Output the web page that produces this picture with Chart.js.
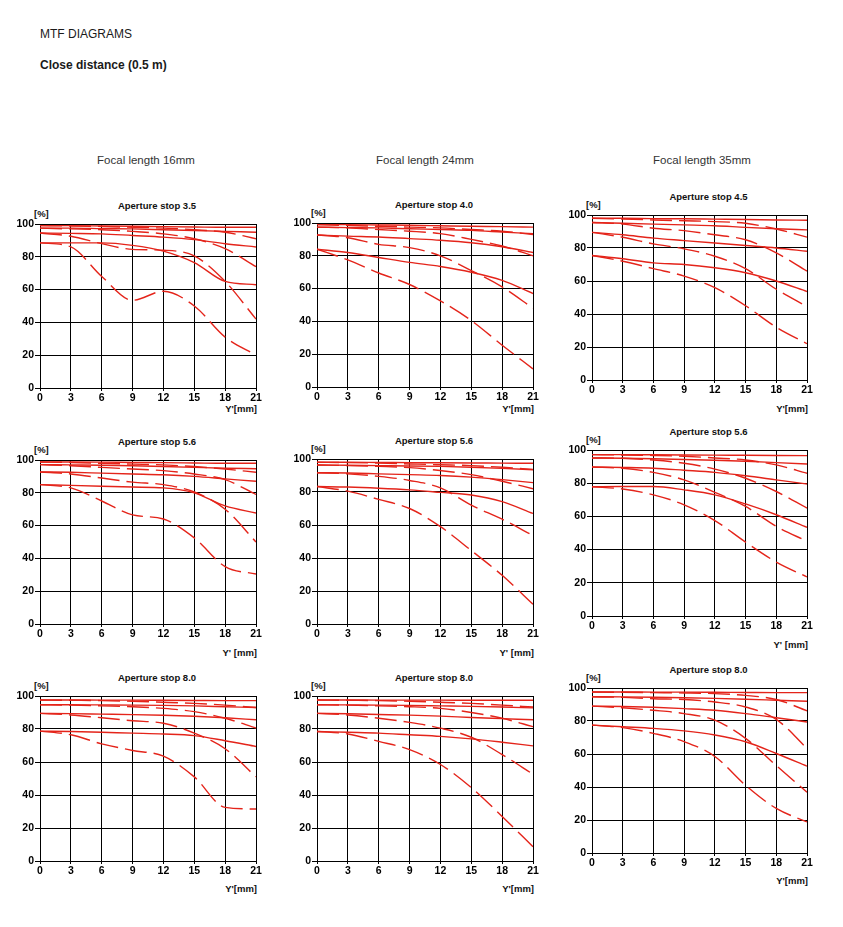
<!DOCTYPE html>
<html>
<head>
<meta charset="utf-8">
<title>MTF diagrams</title>
<script src="https://cdn.jsdelivr.net/npm/chart.js@4.4.1/dist/chart.umd.min.js"></script>
<style>
  html, body { margin: 0; padding: 0; background: #fff; }
  body { position: relative; width: 843px; height: 927px; overflow: hidden;
         font-family: 'Liberation Sans', Arial, sans-serif; color: #1a1a1a; }
  .txt { position: absolute; white-space: nowrap; line-height: 14px; }
  .small { font-size: 9.5px; font-weight: bold; color: #111; }
  canvas { position: absolute; }
</style>
</head>
<body>
<div class="txt" style="left:40px;top:27px;font-size:12px">MTF DIAGRAMS</div>
<div class="txt" style="left:40px;top:58px;font-size:12px;font-weight:bold">Close distance (0.5 m)</div>

<script>
// image height Y' [mm] and MTF [%] ticks
const imageHeights = [0, 3, 6, 9, 12, 15, 18, 21];
const percentTicks = [0, 20, 40, 60, 80, 100];

const focalLengths = ['Focal length 16mm', 'Focal length 24mm', 'Focal length 35mm'];
const apertureStops = [
  ['3.5', '4.0', '4.5'],
  ['5.6', '5.6', '5.6'],
  ['8.0', '8.0', '8.0']
];

// each panel: 5, 10, 20, 40 lp/mm, sagittal (solid) then tangential (dashed)
const mtf16_35 = [
  [99, 99, 98.8, 98.6, 98.4, 98.2, 98, 98],
  [99, 98.8, 98.5, 98, 97.5, 96.5, 95, 91],
  [97.5, 97.5, 97.2, 97, 96.5, 96, 95.5, 95],
  [97.5, 97, 96.5, 95.5, 94, 91, 85, 74],
  [94.5, 94.3, 94, 93, 92, 90.5, 88, 86],
  [94.5, 92.5, 88, 84.5, 84, 80.5, 65, 42],
  [88.5, 88.5, 88.5, 87, 83.5, 76.5, 65, 63],
  [88.5, 86, 68, 53.5, 59, 50, 31, 20]
];
const mtf24_40 = [
  [99, 99, 98.8, 98.6, 98.3, 98, 97.8, 97.5],
  [99, 98.5, 98, 97.5, 97, 96, 95, 93],
  [97.5, 97.2, 97, 96.5, 96, 95.5, 94.5, 93.5],
  [97.5, 97, 96, 95, 93.5, 90, 86, 80],
  [92.7, 92, 91.5, 90.5, 89.5, 88, 85.5, 82],
  [92.7, 91, 87, 85, 80, 71, 61, 48],
  [84, 82, 79, 76, 73.5, 70, 65, 57],
  [84, 77.5, 69.5, 62.5, 52.5, 40.5, 25.5, 11]
];
const mtf35_45 = [
  [98, 98, 97.8, 97.7, 97.5, 97.3, 97, 96.8],
  [98, 97.5, 97, 96.5, 96, 95, 91.5, 86.6],
  [95.5, 95, 94.5, 94, 93.5, 92.5, 91.7, 91],
  [95.5, 94.5, 92, 90.5, 88, 85, 77, 66],
  [89.5, 88, 86, 84.5, 83, 81.5, 80, 78],
  [89.5, 86.5, 82.5, 79.5, 75, 67.5, 55, 44.5],
  [75.5, 73.5, 71, 70, 68, 65, 60, 53.6],
  [75.5, 72, 67.5, 63, 56, 45, 32, 22]
];
const mtf16_56 = [
  [98.8, 98.8, 98.7, 98.5, 98.4, 98.2, 98, 98],
  [98.8, 98.5, 98, 97.5, 97, 96, 94.5, 92.5],
  [97.2, 97, 96.8, 96.5, 96, 95.5, 95, 94.7],
  [97.2, 96.5, 95.5, 94.5, 93.5, 91.5, 88, 79],
  [92.7, 92.5, 92, 91.5, 91, 90, 88.5, 87],
  [92.7, 91.5, 89, 86.5, 85, 80.5, 70, 50],
  [85, 84.5, 84, 83.5, 83, 80, 72, 67.7],
  [85, 83, 75, 66.5, 64, 52.5, 35, 30.5]
];
const mtf24_56 = [
  [98, 98, 97.9, 97.8, 97.7, 97.6, 97.5, 97.4],
  [98, 97.8, 97.5, 97, 96.5, 96, 95, 93.7],
  [96.4, 96.2, 96, 95.8, 95.5, 95, 94.3, 93.5],
  [96.4, 96, 95.5, 94.8, 93, 90.5, 86.5, 82],
  [91.7, 91.5, 91, 90.5, 90, 89, 87.5, 85.7],
  [91.7, 91, 89.5, 87, 82.5, 72, 63.5, 53.6],
  [83.3, 83, 82.3, 81.3, 79.8, 78.2, 74.2, 67],
  [83.3, 80.5, 75.5, 70, 59, 44.5, 29.5, 12]
];
const mtf35_56 = [
  [97.2, 97.2, 97.1, 97, 96.9, 96.8, 96.7, 96.6],
  [97.2, 97, 96.7, 96.2, 95.2, 94, 91, 86],
  [95.2, 95, 94.7, 94.3, 93.8, 93.2, 92.4, 91.6],
  [95.2, 95, 94, 92, 88.5, 83, 75, 65],
  [89.8, 89.5, 89, 87.8, 86.5, 84.5, 82, 79.5],
  [89.8, 89, 86.5, 82, 74.5, 66, 54, 45],
  [77.9, 78, 78, 76, 73, 67.5, 61, 53.4],
  [77.9, 76.5, 73, 67, 57.5, 44.5, 32.5, 23.5]
];
const mtf16_80 = [
  [97.6, 97.6, 97.5, 97.5, 97.4, 97.3, 97.2, 97.2],
  [97.6, 97.4, 97.2, 96.8, 96.2, 95.5, 94.5, 93],
  [94.7, 94.7, 94.6, 94.5, 94.3, 94, 93.5, 93],
  [94.7, 94.5, 94, 93.5, 92.5, 90.5, 86.5, 80.6],
  [89.5, 89.3, 89, 88.7, 88.3, 87.7, 86.8, 85.6],
  [89.5, 88.5, 86.8, 85, 83.5, 77.5, 68, 51],
  [78.7, 78.5, 78, 77.5, 77, 76, 72.9, 69.4],
  [78.7, 76.5, 71, 67, 63.5, 51, 32.5, 31.5]
];
const mtf24_80 = [
  [97.6, 97.6, 97.5, 97.5, 97.5, 97.4, 97.4, 97.4],
  [97.6, 97.4, 97.2, 96.8, 96.2, 95.5, 94.5, 93.3],
  [94.7, 94.6, 94.5, 94.3, 94, 93.7, 93.3, 92.8],
  [94.7, 94.5, 94, 93.5, 92.5, 90, 86.5, 81.4],
  [89.5, 89.2, 88.8, 88.4, 87.8, 87, 86.3, 85.6],
  [89.5, 88.5, 86.5, 84, 80.5, 75, 64.5, 52.6],
  [78.5, 78, 77.5, 76.5, 75.5, 74, 72, 69.8],
  [78.5, 77, 72.5, 67.5, 58.5, 44.5, 27, 8.7]
];
const mtf35_80 = [
  [97.6, 97.6, 97.5, 97.5, 97.4, 97.3, 97.2, 97.2],
  [97.6, 97.4, 97.2, 97, 96.6, 95.5, 93, 86.2],
  [94.7, 94.6, 94.4, 94.1, 93.7, 93.2, 92.6, 92],
  [94.7, 94.3, 93.5, 93, 91.5, 88.5, 81, 63.4],
  [89, 88.8, 88.3, 87.5, 86.5, 84.5, 82, 79.4],
  [89, 88, 86.5, 84.5, 80.5, 69.5, 53, 36.8],
  [77.5, 76.5, 75.5, 74, 71.5, 67.4, 60.3, 52.6],
  [77.5, 76, 72.5, 67.5, 58.5, 41, 27, 18.8]
];

const panelData = [
  [mtf16_35, mtf24_40, mtf35_45],
  [mtf16_56, mtf24_56, mtf35_56],
  [mtf16_80, mtf24_80, mtf35_80]
];

// plot area of each panel on the page: left, top, width, height, y of unit label
const frames = [
  [[40, 224, 216, 164, 409], [317, 223, 216, 164, 409], [592, 215, 215, 165, 409]],
  [[40, 460, 216, 164, 653], [317, 459, 216, 165, 653], [592, 450, 215, 166, 645]],
  [[40, 696, 216, 165, 889], [317, 696, 216, 165, 889], [592, 688, 215, 165, 881]]
];
const colCenters = [146, 425, 702];

const RED = 'rgb(228, 36, 26)';
const AX_W = 32, AX_H = 18, PAD_T = 8, PAD_R = 10;

Chart.defaults.font.family = "'Liberation Sans', Arial, sans-serif";

function addText(text, left, top, cls, style) {
  const d = document.createElement('div');
  d.className = 'txt ' + (cls || '');
  d.textContent = text;
  d.style.left = left + 'px';
  d.style.top = top + 'px';
  Object.assign(d.style, style || {});
  document.body.appendChild(d);
  return d;
}

focalLengths.forEach((f, c) => {
  addText(f, colCenters[c] - 80, 153, '', { width: '160px', textAlign: 'center', fontSize: '11.5px', color: '#333' });
});

for (let r = 0; r < 3; r++) {
  for (let c = 0; c < 3; c++) {
    const [x0, top, w, h, unitY] = frames[r][c];
    const series = panelData[r][c];

    addText('Aperture stop ' + apertureStops[r][c], x0 + w / 2 + 9 - 70, top - 25, 'small',
      { width: '140px', textAlign: 'center' });
    addText('[%]', x0 - 6, top - 17, 'small');
    addText(r === 1 ? "Y' [mm]" : "Y'[mm]", x0 + w - 79, unitY - 7, 'small',
      { width: '80px', textAlign: 'right' });

    const cv = document.createElement('canvas');
    cv.width = AX_W + w + PAD_R;
    cv.height = PAD_T + h + AX_H;
    cv.style.left = (x0 - AX_W) + 'px';
    cv.style.top = (top - PAD_T) + 'px';
    document.body.appendChild(cv);

    new Chart(cv, {
      type: 'line',
      data: {
        datasets: series.map((vals, i) => ({
          data: vals.map((v, j) => ({ x: imageHeights[j], y: v })),
          borderColor: RED,
          borderWidth: 1.4,
          borderDash: i % 2 ? [22, 7] : [],
          pointRadius: 0,
          cubicInterpolationMode: 'monotone',
          fill: false
        }))
      },
      options: {
        responsive: false,
        animation: false,
        devicePixelRatio: 1,
        layout: { padding: { top: PAD_T, right: PAD_R, left: 0, bottom: 0 } },
        plugins: { legend: { display: false }, tooltip: { enabled: false } },
        scales: {
          x: {
            type: 'linear', min: 0, max: 21,
            afterFit: s => { s.height = AX_H; },
            afterBuildTicks: s => { s.ticks = imageHeights.map(v => ({ value: v })); },
            grid: { color: '#000', lineWidth: 1, drawTicks: true, tickLength: 3 },
            border: { color: '#000', width: 1 },
            ticks: { color: '#000', padding: 1, maxRotation: 0, autoSkip: false,
                     font: { size: 10.5, weight: 'bold' } }
          },
          y: {
            min: 0, max: 100,
            afterFit: s => { s.width = AX_W; },
            afterBuildTicks: s => { s.ticks = percentTicks.map(v => ({ value: v })); },
            grid: { color: '#000', lineWidth: 1, drawTicks: true, tickLength: 5 },
            border: { color: '#000', width: 1 },
            ticks: { color: '#000', padding: 1, font: { size: 10.5, weight: 'bold' } }
          }
        }
      }
    });
  }
}
</script>
</body>
</html>
